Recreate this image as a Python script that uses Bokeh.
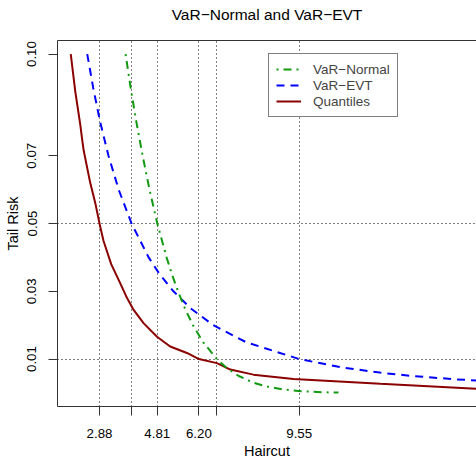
from bokeh.plotting import figure
from bokeh.models import FixedTicker, LinearAxis, Range1d, Legend, LegendItem
from bokeh.embed import file_html
from bokeh.resources import INLINE

# ---- data ----
tail_risk_normal = [0.10, 0.09, 0.08, 0.07, 0.06, 0.05, 0.04, 0.035, 0.03, 0.025, 0.02,
                    0.015, 0.01, 0.0075, 0.005, 0.003, 0.002, 0.001, 0.0005, 0.0002, 0.0001]
haircut_normal = [3.75, 3.92, 4.11, 4.32, 4.55, 4.81, 5.12, 5.30, 5.50, 5.73, 6.00,
                  6.34, 6.80, 7.11, 7.53, 8.03, 8.41, 9.03, 9.61, 10.34, 10.86]

tail_risk_evt = [0.10, 0.09, 0.08, 0.07, 0.06, 0.05, 0.04, 0.035, 0.03, 0.025, 0.02,
                 0.015, 0.01, 0.0075, 0.006, 0.005, 0.004, 0.003]
haircut_evt = [2.47, 2.67, 2.90, 3.18, 3.52, 3.95, 4.52, 4.89, 5.35, 5.92, 6.68,
               7.77, 9.55, 10.99, 12.24, 13.34, 14.81, 16.91]

tail_risk_quant = [0.100, 0.089, 0.079, 0.0755, 0.0716, 0.062, 0.056, 0.050, 0.045, 0.038,
                   0.0324, 0.028, 0.0245, 0.0206, 0.0166, 0.0137, 0.0118, 0.0100, 0.0088,
                   0.0069, 0.0054, 0.0041, 0.0027, 0.0012]
haircut_quant = [1.92, 2.07, 2.24, 2.29, 2.35, 2.57, 2.74, 2.88, 3.01, 3.27,
                 3.57, 3.80, 4.02, 4.35, 4.80, 5.24, 5.80, 6.20, 6.80,
                 7.25, 8.02, 9.36, 12.26, 15.6]

x_ticks = [2.88, 3.95, 4.81, 6.20, 6.80, 9.55]
x_tick_labels = ["2.88", "", "4.81", "6.20", "", "9.55"]
y_ticks = [0.01, 0.03, 0.05, 0.07, 0.10]
y_tick_labels = ["0.01", "0.03", "0.05", "0.07", "0.10"]
y_grid = [0.01, 0.05]

title_text = "VaR\u2212Normal and VaR\u2212EVT"
x_label_text = "Haircut"
y_label_text = "Tail Risk"

FONT = "Liberation Sans"
AX = "#333333"

p = figure(width=476, height=462, output_backend="svg", toolbar_location=None,
           x_range=Range1d(1.477, 15.47), y_range=Range1d(-0.004, 0.104),
           min_border_left=57, min_border_right=0, min_border_top=40, min_border_bottom=56)
p.outline_line_color = None
p.background_fill_color = "white"
p.border_fill_color = "white"

xa = p.below[0]
ya = p.left[0]

# top border line, carrying the chart title as its label
top_axis = LinearAxis(ticker=FixedTicker(ticks=[]), major_tick_line_color=None,
                      minor_tick_line_color=None, major_label_text_font_size="0px",
                      major_tick_in=0, major_tick_out=0, major_label_standoff=0,
                      axis_line_color=AX, axis_line_width=1,
                      axis_label=title_text, axis_label_standoff=18,
                      axis_label_text_font=FONT, axis_label_text_font_size="15.5px",
                      axis_label_text_font_style="normal", axis_label_text_color="black")
p.add_layout(top_axis, "above")

xa.ticker = FixedTicker(ticks=x_ticks)
xa.major_label_overrides = {t: l for t, l in zip(x_ticks, x_tick_labels)}
xa.axis_label = x_label_text
ya.ticker = FixedTicker(ticks=y_ticks)
ya.major_label_overrides = {t: l for t, l in zip(y_ticks, y_tick_labels)}
ya.axis_label = y_label_text
ya.major_label_orientation = "vertical"

for ax in (xa, ya):
    ax.axis_line_color = AX
    ax.major_tick_line_color = AX
    ax.major_tick_in = 0
    ax.major_tick_out = 9
    ax.minor_tick_line_color = None
    ax.major_label_text_font = FONT
    ax.major_label_text_font_size = "13.3px"
    ax.major_label_text_color = "black"
    ax.axis_label_text_font = FONT
    ax.axis_label_text_font_size = "14.5px"
    ax.axis_label_text_font_style = "normal"
    ax.axis_label_text_color = "black"
xa.major_label_standoff = 13
xa.axis_label_standoff = 2
ya.major_label_standoff = 12
ya.axis_label_standoff = 4

p.xgrid.ticker = FixedTicker(ticks=x_ticks)
p.ygrid.ticker = FixedTicker(ticks=y_grid)
for g in (p.xgrid[0], p.ygrid[0]):
    g.grid_line_color = "black"
    g.grid_line_dash = "1 3"
    g.grid_line_width = 1

r_q = p.line(haircut_quant, tail_risk_quant, line_color="#8B0000", line_width=2)
r_e = p.line(haircut_evt, tail_risk_evt, line_color="#0000FF", line_width=2, line_dash="8 6")
r_n = p.line(haircut_normal, tail_risk_normal, line_color="#119911", line_width=2,
             line_dash="2 5 8 5")

legend = Legend(items=[LegendItem(label="VaR\u2212Normal", renderers=[r_n]),
                       LegendItem(label="VaR\u2212EVT", renderers=[r_e]),
                       LegendItem(label="Quantiles", renderers=[r_q])],
                location=(211, 289))
legend.border_line_color = "black"
legend.border_line_width = 1
legend.background_fill_color = "white"
legend.background_fill_alpha = 1
legend.label_text_font = FONT
legend.label_text_font_size = "13.5px"
legend.glyph_width = 25
legend.glyph_height = 16
legend.label_height = 16
legend.label_standoff = 12
legend.padding = 7
legend.spacing = 0
legend.margin = 0
p.add_layout(legend, "center")

open("out.html", "w").write(file_html(p, INLINE))
